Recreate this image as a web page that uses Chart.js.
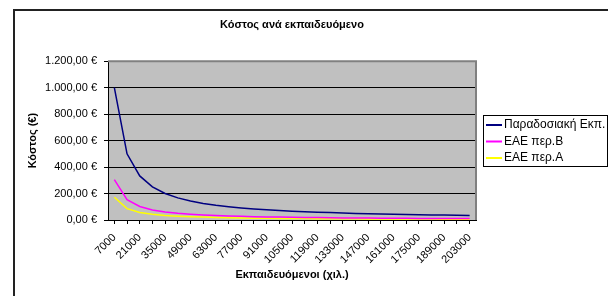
<!DOCTYPE html>
<html>
<head>
<meta charset="utf-8">
<script src="https://cdn.jsdelivr.net/npm/chart.js@4"></script>
<style>
  html, body { margin: 0; padding: 0; background: #fff; }
  #wrap { width: 608px; height: 296px; position: relative; }
</style>
</head>
<body>
<div id="wrap"><canvas id="grafico"></canvas></div>
<script>
// Εκπαιδευόμενοι (χιλ.)
const etiquetas = ["7000", "14000", "21000", "28000", "35000", "42000", "49000", "56000", "63000", "70000",
  "77000", "84000", "91000", "98000", "105000", "112000", "119000", "126000", "133000", "140000",
  "147000", "154000", "161000", "168000", "175000", "182000", "189000", "196000", "203000"];

const paradosiaki = [1000, 500, 333, 250, 200, 167, 143, 125, 111, 100,
  91, 83, 77, 71, 67, 63, 59, 56, 53, 50,
  48, 45, 43, 42, 40, 38, 37, 36, 34];

const eaeB = [305, 153, 102, 76, 61, 51, 44, 38, 34, 31,
  28, 25, 23, 22, 20, 19, 18, 17, 16, 15,
  15, 14, 13, 13, 12, 12, 11, 11, 11];

const eaeA = [172, 86, 57, 43, 34, 29, 25, 22, 19, 17,
  16, 14, 13, 12, 11, 11, 10, 10, 9, 9,
  8, 8, 7, 7, 7, 7, 6, 6, 6];

const yTicks = [0, 200, 400, 600, 800, 1000, 1200];

const FUENTE = "'Liberation Sans', Arial, sans-serif";

function euro(v) {
  const partes = v.toFixed(2).split(".");
  const entero = partes[0].replace(/\B(?=(\d{3})+(?!\d))/g, ".");
  return entero + "," + partes[1] + " €";
}

// fondo gris del área, marco exterior y leyenda con borde
const fondoPlugin = {
  id: "fondo",
  beforeDraw(chart) {
    const { ctx, chartArea: a } = chart;
    ctx.save();
    ctx.fillStyle = "#c0c0c0";
    ctx.fillRect(a.left, a.top, a.right - a.left, a.bottom - a.top);
    ctx.restore();
  },
  beforeDatasetsDraw(chart) {
    const { ctx, chartArea: a } = chart;
    ctx.save();
    ctx.strokeStyle = "#808080";
    ctx.lineWidth = 2;
    ctx.beginPath();
    ctx.moveTo(a.left, a.top);
    ctx.lineTo(a.right, a.top);
    ctx.lineTo(a.right, a.bottom);
    ctx.stroke();
    ctx.restore();
  },
  afterDraw(chart) {
    const ctx = chart.ctx;
    ctx.save();
    // marco del gráfico
    ctx.strokeStyle = "#222";
    ctx.lineWidth = 2;
    ctx.strokeRect(14, 10, 700, 400);

    // leyenda
    const x0 = 483, y0 = 115, w = 124, h = 51;
    ctx.lineWidth = 1;
    ctx.strokeStyle = "#000";
    ctx.strokeRect(x0 + 0.5, y0 + 0.5, w, h);
    ctx.font = "12px " + FUENTE;
    ctx.textBaseline = "middle";
    ctx.fillStyle = "#000";
    chart.data.datasets.forEach((ds, i) => {
      const y = y0 + 10 + i * 16.5;
      ctx.strokeStyle = ds.borderColor;
      ctx.lineWidth = 2;
      ctx.beginPath();
      ctx.moveTo(x0 + 3, y);
      ctx.lineTo(x0 + 19, y);
      ctx.stroke();
      ctx.fillText(ds.label, x0 + 21, y);
    });
    ctx.restore();
  }
};

const configuracion = {
  type: "line",
  data: {
    labels: etiquetas,
    datasets: [
      { label: "Παραδοσιακή Εκπ.", data: paradosiaki, borderColor: "#000080" },
      { label: "ΕΑΕ περ.Β", data: eaeB, borderColor: "#ff00ff" },
      { label: "ΕΑΕ περ.Α", data: eaeA, borderColor: "#ffff00" }
    ]
  },
  options: {
    responsive: true,
    maintainAspectRatio: false,
    animation: false,
    layout: { padding: { left: 0, right: 132, top: 0, bottom: 0 } },
    elements: {
      line: { borderWidth: 1.5, tension: 0 },
      point: { radius: 0 }
    },
    plugins: {
      legend: { display: false },
      tooltip: { enabled: false },
      title: {
        display: true,
        text: "Κόστος ανά εκπαιδευόμενο",
        color: "#000",
        fullSize: false,
        font: { family: FUENTE, size: 11, weight: "bold" },
        padding: { top: 18, bottom: 30 }
      }
    },
    scales: {
      x: {
        offset: true,
        grid: { display: true, drawOnChartArea: false, drawTicks: true, tickLength: 4, color: "#000" },
        border: { color: "#000", width: 1 },
        ticks: {
          autoSkip: false,
          minRotation: 45,
          maxRotation: 45,
          color: "#000",
          padding: 7,
          font: { family: FUENTE, size: 11 },
          callback: (v, i) => (i % 2 === 0 ? etiquetas[i] : "")
        },
        title: {
          display: true,
          text: "Εκπαιδευόμενοι (χιλ.)",
          color: "#000",
          font: { family: FUENTE, size: 11, weight: "bold" },
          padding: { top: 0, bottom: 14 }
        },
        afterFit: (s) => { s.height = 76; }
      },
      y: {
        min: 0,
        max: 1200,
        afterBuildTicks: (s) => { s.ticks = yTicks.map(v => ({ value: v })); },
        grid: {
          color: (c) => (c.tick && c.tick.value === 1200 ? "#808080" : "#000"),
          tickLength: 4,
          tickColor: "#000"
        },
        border: { color: "#000", width: 1 },
        ticks: {
          color: "#000",
          padding: 7,
          font: { family: FUENTE, size: 11 },
          callback: (v) => euro(v)
        },
        title: {
          display: true,
          text: "Κόστος (€)",
          color: "#000",
          font: { family: FUENTE, size: 11, weight: "bold" },
          padding: { top: 26, bottom: 0 }
        },
        afterFit: (s) => { s.width = 108; }
      }
    }
  },
  plugins: [fondoPlugin]
};

new Chart(document.querySelector("#grafico"), configuracion);
</script>
</body>
</html>
